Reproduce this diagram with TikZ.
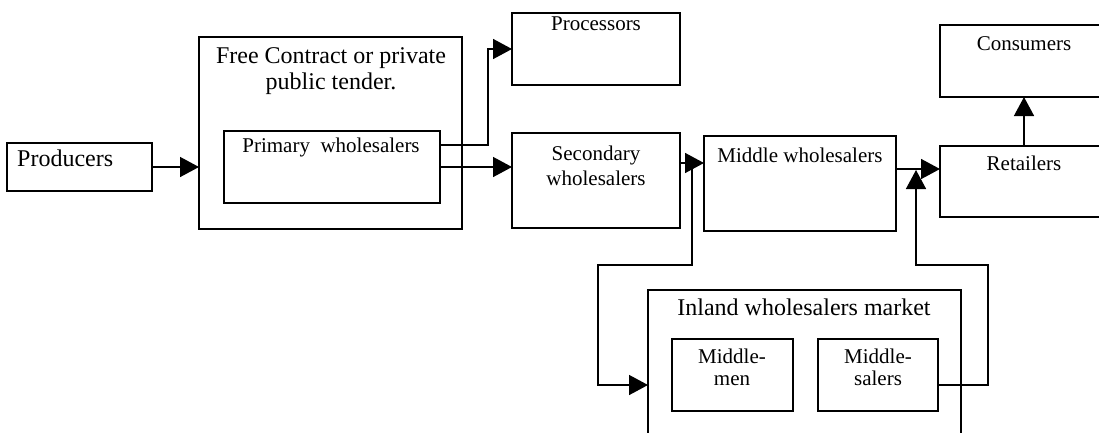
\documentclass[tikz,border=0pt]{standalone}
\usepackage{fontspec}
\setmainfont{Liberation Serif}
\usetikzlibrary{arrows.meta}
\begin{document}
\begin{tikzpicture}[x=1pt,y=-1pt,
  box/.style={draw,line width=1.5pt,inner sep=0pt,outer sep=0pt,anchor=north west},
  big/.style={font=\fontsize{24pt}{28pt}\selectfont,inner sep=0pt,anchor=base},
  small/.style={font=\fontsize{21pt}{25pt}\selectfont,inner sep=0pt,anchor=base},
  wire/.style={line width=1.5pt},
  arr/.style={line width=1.5pt,-{Triangle[length=19pt,width=20pt]}}]
\useasboundingbox (0,0) rectangle (1099,432);
\clip (0,0) rectangle (1099,432);

% boxes
\node[box,minimum width=145pt,minimum height=48pt]  (producers)  at (7,143)   {};
\node[box,minimum width=263pt,minimum height=192pt] (tender)     at (199,37)  {};
\node[box,minimum width=216pt,minimum height=72pt]  (primary)    at (224,131) {};
\node[box,minimum width=168pt,minimum height=72pt]  (processors) at (512,13)  {};
\node[box,minimum width=168pt,minimum height=95pt]  (secondary)  at (512,133) {};
\node[box,minimum width=192pt,minimum height=95pt]  (middle)     at (704,136) {};
\node[box,minimum width=175pt,minimum height=72pt]  (consumers)  at (940,25)  {};
\node[box,minimum width=175pt,minimum height=71pt]  (retailers)  at (940,146) {};
\node[box,minimum width=313pt,minimum height=160pt] (inland)     at (648,290) {};
\node[box,minimum width=121pt,minimum height=72pt]  (mmen)       at (672,339) {};
\node[box,minimum width=120pt,minimum height=72pt]  (msalers)    at (818,339) {};

% labels
\node[big,anchor=base west] (t-producers) at (17,166) {Producers};
\node[big]   (t-tender1)   at (331,63)  {Free Contract or private};
\node[big]   (t-tender2)   at (331,89)  {public tender.};
\node[small] (t-primary)   at (331,152) {Primary\ \ wholesalers};
\node[small] (t-proc)      at (596,30)  {Processors};
\node[small] (t-second1)   at (596,160) {Secondary};
\node[small] (t-second2)   at (596,185) {wholesalers};
\node[small] (t-middle)    at (800,162) {Middle wholesalers};
\node[small] (t-consumers) at (1024,50) {Consumers};
\node[small] (t-retailers) at (1024,170) {Retailers};
\node[big]   (t-inland)    at (804,315) {Inland wholesalers market};
\node[small] (t-mmen1)     at (732,363) {Middle-};
\node[small] (t-mmen2)     at (732,385) {men};
\node[small] (t-msal1)     at (878,363) {Middle-};
\node[small] (t-msal2)     at (878,385) {salers};

% bend points
\coordinate (k1) at (488,49);
\coordinate (j1) at (692,163);
\coordinate (j2) at (598,265);
\coordinate (j3) at (988,265);
\coordinate (j4) at (916,170);

% connectors
\draw[arr] (producers.east |- 0,167) -- (tender.west |- 0,167);
\draw[arr] (primary.east |- 0,145) -| (k1) -- (processors.west |- k1);
\draw[arr] (primary.east |- 0,167) -- (secondary.west |- 0,167);
\draw[arr] (secondary.east |- 0,163) -- (middle.west |- 0,163);
\draw[arr] (j1) |- (j2) |- (inland.west |- 0,385);
\draw[arr] (middle.east |- 0,169) -- (retailers.west |- 0,169);
\draw[arr] (msalers.east |- 0,385) -| (j3) -| (j4);
\draw[arr] (retailers.north -| 1024,0) -- (consumers.south -| 1024,0);
\end{tikzpicture}
\end{document}
